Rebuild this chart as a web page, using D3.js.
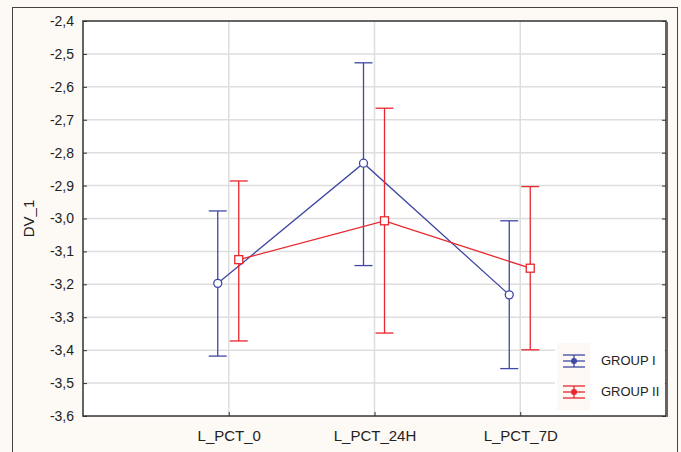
<!DOCTYPE html>
<html>
<head>
<meta charset="utf-8">
<script src="https://cdn.jsdelivr.net/npm/d3@7"></script>
<style>
  body { margin: 0; background: #fff; }
  svg { display: block; font-family: "Liberation Sans", Arial, sans-serif; }
</style>
</head>
<body>
<svg id="chart" width="681" height="452"></svg>
<script>
// categories and tick labels
var categories = ["L_PCT_0", "L_PCT_24H", "L_PCT_7D"];
var yTicks = [-2.4, -2.5, -2.6, -2.7, -2.8, -2.9, -3.0, -3.1, -3.2, -3.3, -3.4, -3.5, -3.6];

// group I: means and interval ends
var group1Mean  = [-3.197, -2.832, -3.232];
var group1Upper = [-2.977, -2.527, -3.007];
var group1Lower = [-3.418, -3.143, -3.456];

// group II: means and interval ends
var group2Mean  = [-3.125, -3.007, -3.151];
var group2Upper = [-2.886, -2.665, -2.903];
var group2Lower = [-3.372, -3.348, -3.399];

var groups = [
    {name: "GROUP I",  color: "#3f48a3", shape: "circle", offset: -11, mean: group1Mean, upper: group1Upper, lower: group1Lower},
    {name: "GROUP II", color: "#e8262d", shape: "square", offset: 10,  mean: group2Mean, upper: group2Upper, lower: group2Lower}
];

const MARGIN = {top: 21, right: 15, bottom: 36, left: 83},
      WIDTH = 681 - MARGIN.left - MARGIN.right,
      HEIGHT = 452 - MARGIN.top - MARGIN.bottom;

var svg = d3.select("#chart");

// cream page background and outer frame
svg.append("rect").attr("width", 681).attr("height", 452).attr("fill", "#fdf9f5");
svg.append("rect")
    .attr("x", 12.5).attr("y", 7.5).attr("width", 665).attr("height", 460)
    .attr("fill", "none").attr("stroke", "#444").attr("stroke-width", 1);

var g = svg.append("g")
    .attr("transform", "translate(" + MARGIN.left + "," + MARGIN.top + ")");

// scales
var xScale = d3.scalePoint().domain(categories).range([0, WIDTH]).padding(1);
var yScale = d3.scaleLinear().domain([-3.6, -2.4]).range([HEIGHT, 0]);

// plot area
g.append("rect").attr("width", WIDTH).attr("height", HEIGHT).attr("fill", "#fff");

// grid lines
g.selectAll(".hgrid")
    .data(yTicks.slice(1, -1))
    .enter().append("line")
    .attr("x1", 0).attr("x2", WIDTH)
    .attr("y1", d => yScale(d)).attr("y2", d => yScale(d))
    .attr("stroke", "#dedede").attr("stroke-width", 1.5);

g.selectAll(".vgrid")
    .data(categories)
    .enter().append("line")
    .attr("x1", d => xScale(d)).attr("x2", d => xScale(d))
    .attr("y1", 0).attr("y2", HEIGHT)
    .attr("stroke", "#dedede").attr("stroke-width", 1.5);

// axes
var fmt = d => d3.format(".1f")(d).replace(".", ",").replace("−", "-");

var yAxis = d3.axisLeft(yScale).tickValues(yTicks).tickSizeInner(-4).tickSizeOuter(0)
    .tickPadding(9).tickFormat(fmt);
var yAxisG = g.append("g").call(yAxis);
yAxisG.select(".domain").remove();
yAxisG.selectAll("line").attr("stroke", "#333");
yAxisG.selectAll("text").attr("font-size", 14).attr("fill", "#222");

var yRight = g.append("g").attr("transform", "translate(" + WIDTH + ",0)")
    .call(d3.axisRight(yScale).tickValues(yTicks).tickSizeInner(-4).tickSizeOuter(0).tickFormat(""));
yRight.select(".domain").remove();
yRight.selectAll("line").attr("stroke", "#333");

var xAxisG = g.append("g").attr("transform", "translate(0," + HEIGHT + ")")
    .call(d3.axisBottom(xScale).tickSizeInner(-4).tickSizeOuter(0).tickPadding(14));
xAxisG.select(".domain").remove();
xAxisG.selectAll("line").attr("stroke", "#333");
xAxisG.selectAll("text").attr("font-size", 15).attr("fill", "#222");

// frame
g.append("rect").attr("width", WIDTH).attr("height", HEIGHT)
    .attr("fill", "none").attr("stroke", "#333").attr("stroke-width", 1.5);
g.append("line").attr("x1", WIDTH + 1.5).attr("x2", WIDTH + 1.5).attr("y1", 1).attr("y2", HEIGHT + 1)
    .attr("stroke", "#666").attr("stroke-width", 1);

// y title
g.append("text")
    .attr("transform", "translate(" + (-49) + "," + (HEIGHT / 2) + ") rotate(-90)")
    .attr("text-anchor", "middle").attr("font-size", 15).attr("fill", "#222")
    .text("DV_1");

// series
var capW = 9;
groups.forEach(grp => {
    var px = i => xScale(categories[i]) + grp.offset;
    var idx = d3.range(categories.length);
    var s = g.append("g");

    s.append("path")
        .attr("d", d3.line().x(i => px(i)).y(i => yScale(grp.mean[i]))(idx))
        .attr("fill", "none").attr("stroke", grp.color).attr("stroke-width", 1.3);

    idx.forEach(i => {
        var x = px(i);
        s.append("line").attr("x1", x).attr("x2", x)
            .attr("y1", yScale(grp.upper[i])).attr("y2", yScale(grp.lower[i]))
            .attr("stroke", grp.color).attr("stroke-width", 1.3);
        [grp.upper[i], grp.lower[i]].forEach(v => {
            s.append("line").attr("x1", x - capW).attr("x2", x + capW)
                .attr("y1", yScale(v)).attr("y2", yScale(v))
                .attr("stroke", grp.color).attr("stroke-width", 1.3);
        });
        if (grp.shape === "circle")
            s.append("circle").attr("cx", x).attr("cy", yScale(grp.mean[i])).attr("r", 4)
                .attr("fill", "#fff").attr("stroke", grp.color).attr("stroke-width", 1.3);
        else
            s.append("rect").attr("x", x - 4).attr("y", yScale(grp.mean[i]) - 4)
                .attr("width", 8).attr("height", 8)
                .attr("fill", "#fff").attr("stroke", grp.color).attr("stroke-width", 1.3);
    });
});

// legend
var legend = svg.append("g").attr("transform", "translate(555,343)");
legend.append("rect").attr("width", 110).attr("height", 67).attr("fill", "#fff");
legend.append("rect").attr("x", 2).attr("width", 33).attr("height", 67).attr("fill", "#fdf8f4");
groups.forEach((grp, i) => {
    var ly = 18 + i * 31;
    var lg = legend.append("g").attr("transform", "translate(19," + ly + ")");
    [-6, 0, 6].forEach(dy => {
        lg.append("line").attr("x1", -11).attr("x2", 11).attr("y1", dy).attr("y2", dy)
            .attr("stroke", grp.color).attr("stroke-width", 1.3);
    });
    lg.append("line").attr("x1", 0).attr("x2", 0).attr("y1", -6).attr("y2", 6)
        .attr("stroke", grp.color).attr("stroke-width", 1.3);
    lg.append("circle").attr("r", 3).attr("fill", grp.color);
    legend.append("text").attr("x", 46).attr("y", ly + 4)
        .attr("font-size", 13).attr("fill", "#222").text(grp.name);
});
</script>
</body>
</html>
